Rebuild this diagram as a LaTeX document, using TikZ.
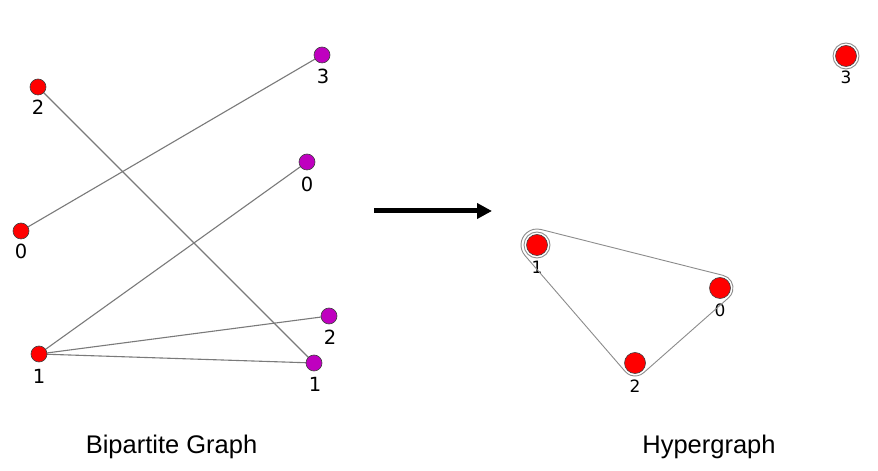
\documentclass[tikz,border=0pt]{standalone}
\usepackage{fontspec}
\setmainfont{Liberation Sans}
\newfontfamily\dvfont{DejaVu Sans}
\usetikzlibrary{arrows.meta}
\definecolor{vred}{HTML}{FF0000}
\definecolor{vmag}{HTML}{BF00BF}
\definecolor{edgegray}{HTML}{7A7A7A}
\definecolor{ringgray}{HTML}{8C8C8C}
\tikzset{
  lnode/.style={circle, draw=black!75, line width=0.6pt, minimum size=16pt, inner sep=0pt, fill=vred},
  rnode/.style={lnode, fill=vmag},
  hnode/.style={circle, draw=black!75, line width=0.6pt, minimum size=21pt, inner sep=0pt, fill=vred},
  blabel/.style={font=\dvfont\fontsize{19.5}{19.5}\selectfont, inner sep=0pt},
  hlabel/.style={font=\dvfont\fontsize{17}{17}\selectfont, inner sep=0pt},
  bedge/.style={draw=edgegray, line width=1.1pt},
  ring/.style={draw=ringgray, line width=0.9pt},
  caption/.style={font=\fontsize{25.5}{25.5}\selectfont, anchor=base, inner sep=0pt}
}
\begin{document}
\begin{tikzpicture}[x=1pt,y=1pt]
\useasboundingbox[fill=white] (0,0) rectangle (878,471);
% bipartite graph
\coordinate (L2) at (38,384);
\coordinate (L0) at (21,240);
\coordinate (L1) at (39,117);
\coordinate (R3) at (322,416);
\coordinate (R0) at (307,309);
\coordinate (R2) at (329,155);
\coordinate (R1) at (314,108);
\draw[bedge] (L2) -- (R1);
\draw[bedge] (L0) -- (R3);
\draw[bedge] (L1) -- (R0);
\draw[bedge] (L1) -- (R2);
\draw[bedge] (L1) -- (R1);
\node[lnode] (nL2) at (L2) {};
\node[lnode] (nL0) at (L0) {};
\node[lnode] (nL1) at (L1) {};
\node[rnode] (nR3) at (R3) {};
\node[rnode] (nR0) at (R0) {};
\node[rnode] (nR2) at (R2) {};
\node[rnode] (nR1) at (R1) {};
\node[blabel] (tL2) at (38,364) {2};
\node[blabel] (tL0) at (21,220) {0};
\node[blabel] (tL1) at (39,95) {1};
\node[blabel] (tR3) at (323,395) {3};
\node[blabel] (tR0) at (307,287) {0};
\node[blabel] (tR2) at (330,134) {2};
\node[blabel] (tR1) at (315,87) {1};
% arrow
\coordinate (as) at (374,260);
\coordinate (ae) at (492,260);
\draw[line width=5pt, -{Triangle[length=15pt,width=15pt]}] (as) -- (ae);
% hypergraph
\coordinate (HA) at (537,226);
\coordinate (HB) at (720,183);
\coordinate (HC) at (635,108);
\coordinate (HD) at (846,415);
\node[hlabel] (th1) at (537,204) {1};
\node[hlabel] (th0) at (720,161) {0};
\node[hlabel] (th2) at (635,85) {2};
\node[hlabel] (th3) at (846,394) {3};
\draw[ring] ([shift={(75.86:16pt)}]HA) -- ([shift={(75.86:13pt)}]HB)
  arc[start angle=75.86, end angle=-48.58, radius=13pt]
  -- ([shift={(-48.58:13pt)}]HC)
  arc[start angle=-48.58, end angle=-139.17, radius=13pt]
  -- ([shift={(220.83:16pt)}]HA)
  arc[start angle=220.83, end angle=75.86, radius=16pt] -- cycle;
\draw[ring] (HA) circle[radius=13pt];
\draw[ring] (HD) circle[radius=13pt];
\node[hnode] (h1) at (HA) {};
\node[hnode] (h0) at (HB) {};
\node[hnode] (h2) at (HC) {};
\node[hnode] (h3) at (HD) {};
% captions
\node[caption] (cap1) at (171.5,17) {Bipartite Graph};
\node[caption] (cap2) at (709,17) {Hypergraph};
\end{tikzpicture}
\end{document}
